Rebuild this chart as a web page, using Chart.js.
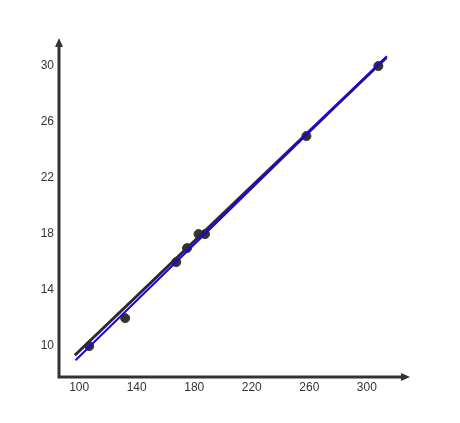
<!DOCTYPE html>
<html>
<head>
<meta charset="utf-8">
<script src="https://cdn.jsdelivr.net/npm/chart.js@4"></script>
<style>
  html, body { margin: 0; padding: 0; background: #fff; }
  #wrap { width: 460px; height: 423px; }
</style>
</head>
<body>
<div id="wrap"><canvas id="chart"></canvas></div>
<script>
// observed points
const xValues = [107, 132, 167.5, 175, 183, 187.5, 258, 308];
const yValues = [10, 12, 16, 17, 18, 18, 25, 30];

// two straight lines, end points in data units
const lineA = [{x: 97, y: 9.35}, {x: 313.5, y: 30.6}];
const lineB = [{x: 97.5, y: 9.0}, {x: 314, y: 30.7}];

const xTicks = [100, 140, 180, 220, 260, 300];
const yTicks = [10, 14, 18, 22, 26, 30];

const points = xValues.map((x, i) => ({x: x, y: yValues[i]}));

// axes with arrow heads
const arrowAxes = {
    id: 'arrowAxes',
    afterDraw(chart) {
        const {ctx, chartArea: a} = chart;
        ctx.save();
        ctx.strokeStyle = '#333';
        ctx.fillStyle = '#333';
        ctx.lineWidth = 3;
        ctx.beginPath();
        ctx.moveTo(a.left, a.bottom);
        ctx.lineTo(a.left, a.top + 6);
        ctx.moveTo(a.left - 1.5, a.bottom);
        ctx.lineTo(a.right - 6, a.bottom);
        ctx.stroke();
        // up arrow
        ctx.beginPath();
        ctx.moveTo(a.left, a.top);
        ctx.lineTo(a.left - 4, a.top + 9);
        ctx.lineTo(a.left + 4, a.top + 9);
        ctx.closePath();
        ctx.fill();
        // right arrow
        ctx.beginPath();
        ctx.moveTo(a.right, a.bottom);
        ctx.lineTo(a.right - 9, a.bottom - 4);
        ctx.lineTo(a.right - 9, a.bottom + 4);
        ctx.closePath();
        ctx.fill();
        ctx.restore();
    }
};

new Chart(document.getElementById('chart'), {
    type: 'scatter',
    data: {
        datasets: [
            {
                type: 'line',
                data: lineB,
                borderColor: '#1a00f0',
                borderWidth: 2,
                pointRadius: 0,
                order: 0
            },
            {
                type: 'line',
                data: lineA,
                borderColor: '#2b2b2b',
                borderWidth: 3,
                pointRadius: 0,
                order: 1
            },
            {
                data: points,
                backgroundColor: '#333',
                borderColor: '#333',
                pointRadius: 4.5,
                order: 2
            }
        ]
    },
    options: {
        responsive: true,
        maintainAspectRatio: false,
        animation: false,
        layout: { padding: { left: 0, top: 38, right: 50, bottom: 0 } },
        plugins: { legend: { display: false }, tooltip: { enabled: false } },
        scales: {
            x: {
                type: 'linear',
                min: 86,
                max: 330,
                grid: { display: false, drawTicks: false },
                border: { display: false },
                afterBuildTicks: s => { s.ticks = xTicks.map(v => ({value: v})); },
                afterFit: s => { s.height = 46; },
                ticks: {
                    color: '#333',
                    padding: 3,
                    font: { family: 'Liberation Sans, Arial', size: 12 }
                }
            },
            y: {
                type: 'linear',
                min: 7.8,
                max: 32,
                grid: { display: false, drawTicks: false },
                border: { display: false },
                afterBuildTicks: s => { s.ticks = yTicks.map(v => ({value: v})); },
                afterFit: s => { s.width = 59; },
                ticks: {
                    color: '#333',
                    padding: 5,
                    font: { family: 'Liberation Sans, Arial', size: 12 }
                }
            }
        }
    },
    plugins: [arrowAxes]
});
</script>
</body>
</html>
